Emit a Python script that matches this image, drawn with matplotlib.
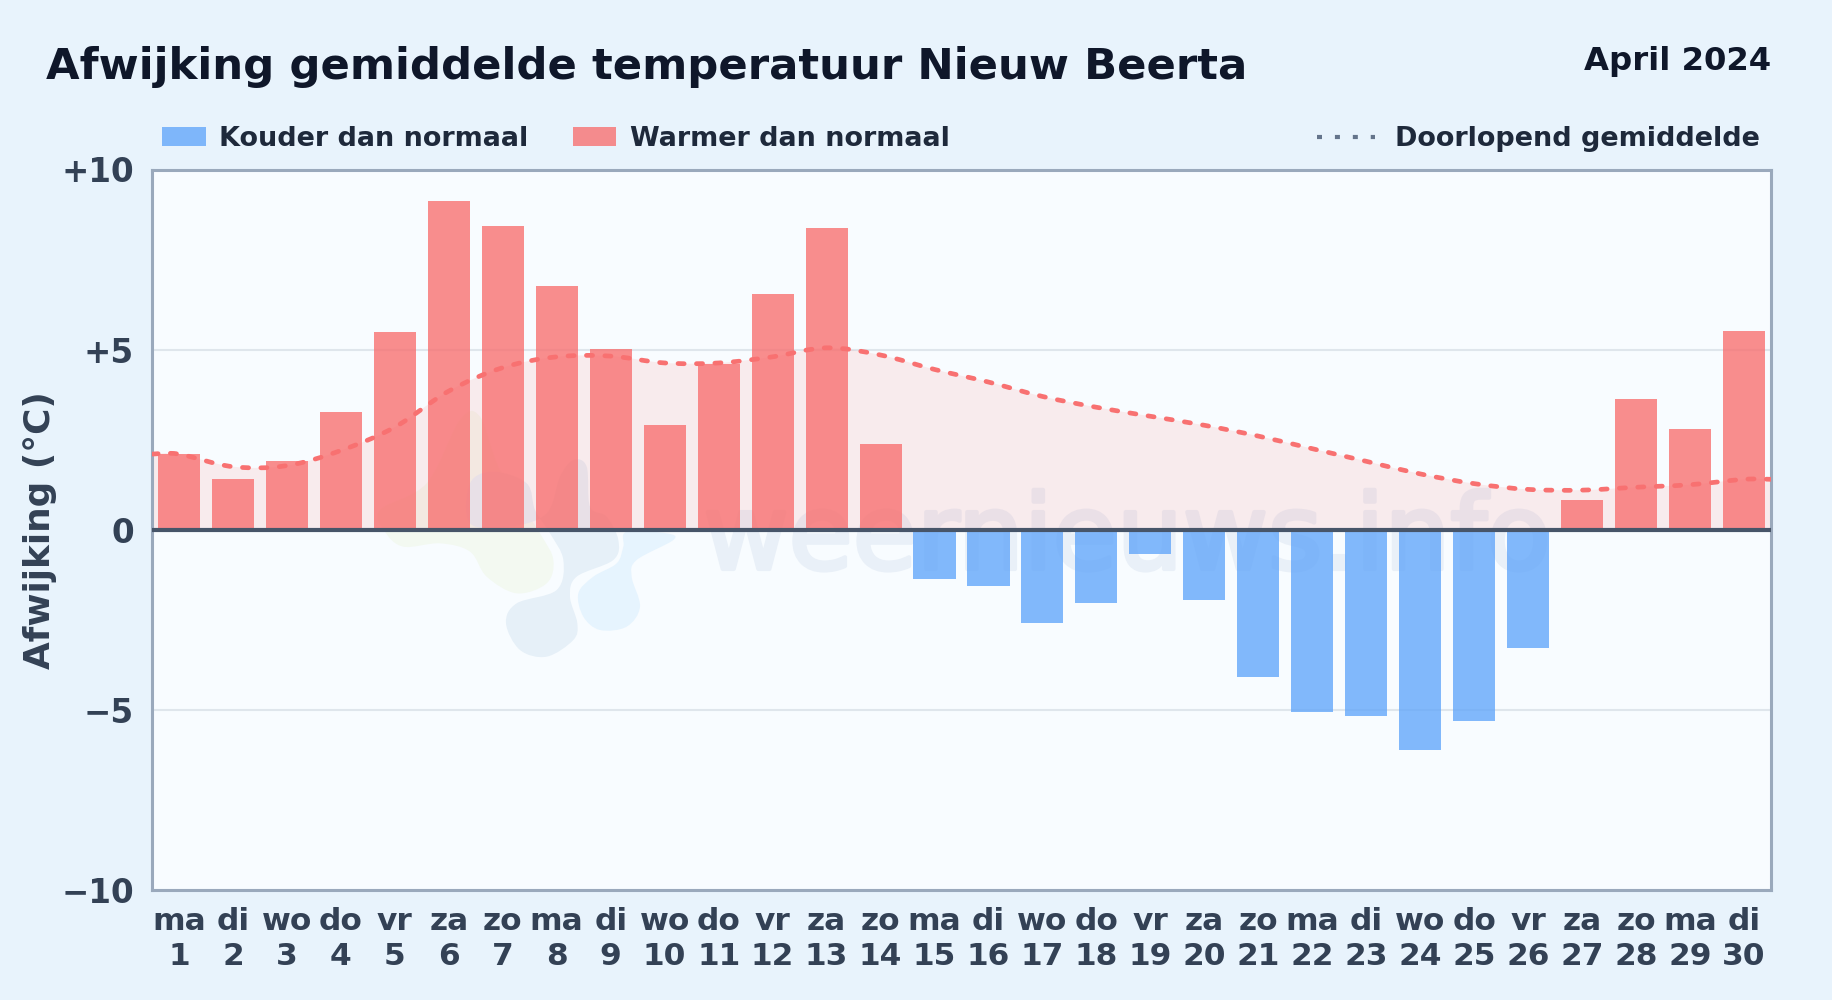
import numpy as np
import matplotlib
matplotlib.use('Agg')
import matplotlib.pyplot as plt
import matplotlib.patheffects as pe
from matplotlib.colors import to_rgba
from matplotlib.path import Path
from matplotlib.patches import PathPatch, Rectangle
from matplotlib.lines import Line2D

W, H = 1832, 1000

# data
weekdays = ['ma', 'di', 'wo', 'do', 'vr', 'za', 'zo'] * 4 + ['ma', 'di']
days = list(range(1, 31))
afwijking = [2.1, 1.42, 1.9, 3.28, 5.5, 9.13, 8.42, 6.76, 5.03, 2.92,
             4.6, 6.54, 8.39, 2.39, -1.37, -1.57, -2.6, -2.02, -0.66, -1.94,
             -4.09, -5.05, -5.16, -6.1, -5.31, -3.28, 0.83, 3.62, 2.8, 5.53]
gemiddelde = [2.1, 1.75, 1.78, 2.2, 2.85, 3.85, 4.5, 4.8, 4.82, 4.63,
              4.63, 4.8, 5.05, 4.85, 4.45, 4.1, 3.7, 3.4, 3.15, 2.9,
              2.6, 2.25, 1.9, 1.55, 1.28, 1.12, 1.1, 1.18, 1.25, 1.4]
y_ticks = [-10, -5, 0, 5, 10]
y_labels = ['\u221210', '\u22125', '0', '+5', '+10']

# logo shapes, in pixels of a crop that starts at (360, 400) and is 3x enlarged
logo_green = [(75, 395), (130, 440), (240, 430), (330, 455), (380, 530), (470, 580), (560, 550), (580, 480),
              (540, 400), (420, 210), (360, 50), (300, 60), (200, 250), (60, 330)]
logo_grey = [(330, 250), (400, 215), (500, 250), (525, 330), (570, 400), (610, 480), (590, 570), (470, 610),
             (438, 670), (480, 750), (560, 770), (640, 720), (652, 670), (630, 590), (650, 530), (760, 480),
             (775, 420), (740, 350), (690, 320), (680, 200), (640, 180), (600, 230), (560, 340), (450, 380),
             (330, 370)]
logo_blue = [(800, 395), (920, 400), (940, 420), (830, 480), (815, 530), (840, 620), (800, 680), (720, 690),
             (670, 650), (655, 580), (700, 530), (770, 490), (790, 440)]

BG = '#e8f3fc'
RED = '#f87171'
BLUE = '#60a5fa'
plt.rcParams['font.family'] = 'DejaVu Sans'

fig = plt.figure(figsize=(W / 100, H / 100), dpi=100, facecolor=BG)


def fx(x):
    return x / W


def fy(y):
    return 1 - y / H


def smooth(xs, ys, closed=False):
    # catmull-rom through the points, as bezier segments
    n = len(xs)
    verts = [(xs[0], ys[0])]
    codes = [Path.MOVETO]
    for i in range(n if closed else n - 1):
        if closed:
            a, b, c, d = (i - 1) % n, i, (i + 1) % n, (i + 2) % n
        else:
            a, b, c, d = max(i - 1, 0), i, i + 1, min(i + 2, n - 1)
        verts += [(xs[b] + (xs[c] - xs[a]) / 6, ys[b] + (ys[c] - ys[a]) / 6),
                  (xs[c] - (xs[d] - xs[b]) / 6, ys[c] - (ys[d] - ys[b]) / 6),
                  (xs[c], ys[c])]
        codes += [Path.CURVE4] * 3
    return verts, codes


left, right, top, bottom = 152, 1771, 169.5, 890
ax = fig.add_axes([fx(left), fy(bottom), fx(right - left), (bottom - top) / H])
ax.set_facecolor('#f8fcff')
ax.set_xlim(0.5, 30.5)
ax.set_ylim(-10, 10)

for s in ax.spines.values():
    s.set_color('#9aa9bc')
    s.set_linewidth(2.2)

ax.yaxis.grid(True, color='#dfe6ec', linewidth=1.5, zorder=1)
ax.set_axisbelow(True)
ax.set_yticks(y_ticks)
ax.set_yticklabels(y_labels, fontsize=23.5, fontweight='bold', color='#334155')
ax.set_xticks(days)
ax.set_xticklabels([w + '\n' + str(d) for w, d in zip(weekdays, days)],
                   fontsize=22.5, fontweight='bold', color='#334155', linespacing=1.25)
ax.tick_params(axis='both', length=0)
ax.tick_params(axis='y', pad=13)
ax.tick_params(axis='x', pad=12.5)
fig.text(fx(40.5), fy(530), 'Afwijking (\u00b0C)', rotation=90, ha='center', va='center',
         fontsize=25.8, fontweight='bold', color='#334155')

# watermark, logo and text behind the bars
for shape, col in [(logo_green, '#f3f9f1'), (logo_grey, '#e6f0f8'), (logo_blue, '#e6f4fe')]:
    px = [360 + p[0] / 3 for p in shape]
    py = [400 + p[1] / 3 for p in shape]
    v, c = smooth([fx(p) for p in px], [fy(p) for p in py], closed=True)
    ax.add_patch(PathPatch(Path(v, c), transform=fig.transFigure, facecolor=col, lw=0, zorder=0.5))
ax.text(fx(1127), fy(569), 'weernieuws.info', transform=fig.transFigure, ha='center', va='baseline',
        fontsize=75, color='#e9f0f8', zorder=0.6,
        path_effects=[pe.withStroke(linewidth=3, foreground='#e9f0f8')])

# smooth line through the readings, held flat out to both axes edges
xs = [0.5] + days + [30.5]
ys = [gemiddelde[0]] + gemiddelde + [gemiddelde[-1]]
verts, codes = smooth(xs, ys)

fill_verts = verts + [(xs[-1], 0), (xs[0], 0), (xs[0], ys[0])]
fill_codes = codes + [Path.LINETO, Path.LINETO, Path.CLOSEPOLY]
ax.add_patch(PathPatch(Path(fill_verts, fill_codes), facecolor=RED, alpha=0.12, lw=0, zorder=1.5))

colors = [to_rgba(RED, 0.8) if v >= 0 else to_rgba(BLUE, 0.78) for v in afwijking]
ax.bar(days, afwijking, width=0.78, color=colors, linewidth=0, zorder=2)

ax.add_patch(PathPatch(Path(verts, codes), facecolor='none', edgecolor=RED, lw=3.4,
                       linestyle=(0, (1.3, 2.6)), capstyle='round', zorder=3))
ax.axhline(0, color='#475569', linewidth=3, zorder=4)

# title
fig.text(fx(46), fy(79), 'Afwijking gemiddelde temperatuur Nieuw Beerta', fontsize=31.2,
         fontweight='bold', color='#0f172a', va='baseline')
fig.text(fx(1771), fy(70), 'April 2024', fontsize=23.2, fontweight='bold', color='#0f172a',
         ha='right', va='baseline')

# legend row
fig.add_artist(Rectangle((fx(162), fy(146)), fx(44), 19 / H, transform=fig.transFigure,
                         color=BLUE, alpha=0.78, lw=0))
fig.add_artist(Rectangle((fx(573), fy(146)), fx(43), 19 / H, transform=fig.transFigure,
                         color=RED, alpha=0.8, lw=0))
fig.add_artist(Line2D([fx(1317), fx(1375)], [fy(137), fy(137)], transform=fig.transFigure,
                      color='#64748b', lw=3, linestyle=(0, (1.2, 3.1))))
for tx, label in [(219, 'Kouder dan normaal'), (630, 'Warmer dan normaal'), (1395, 'Doorlopend gemiddelde')]:
    fig.text(fx(tx), fy(146), label, fontsize=19.45, fontweight='bold', color='#1e293b', va='baseline')

fig.savefig('out.png', dpi=100, facecolor=BG)
